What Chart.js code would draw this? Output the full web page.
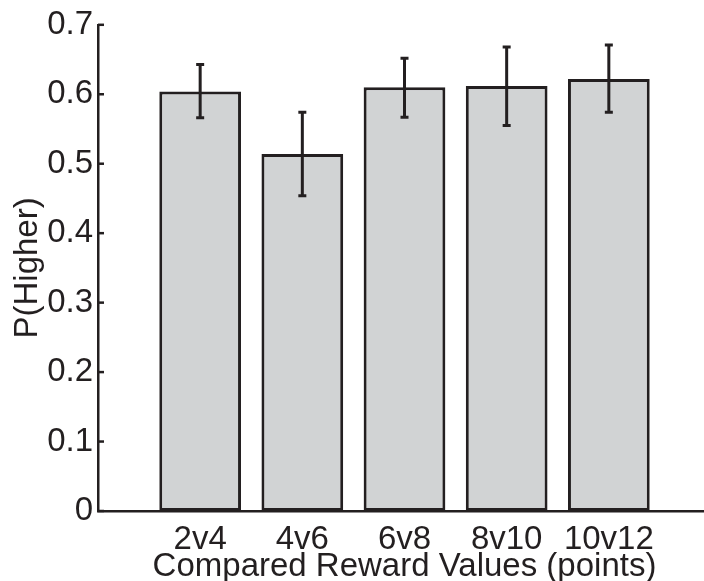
<!DOCTYPE html>
<html lang="en">
<head>
<meta charset="UTF-8">
<title>P(Higher)</title>
<script src="https://cdn.jsdelivr.net/npm/chart.js"></script>
<style>
    body {
        margin: 0;
        overflow: hidden;
        background: #fff;
    }
    #wrap {
        width: 720px;
        height: 581px;
    }
</style>
</head>
<body>
<div id="wrap"><canvas id="myChart" width="720" height="581"></canvas></div>
<script>
    // values
    const categories = ['2v4', '4v6', '6v8', '8v10', '10v12'];
    const pHigher   = [0.604, 0.514, 0.610, 0.612, 0.622];
    const errLow    = [0.566, 0.454, 0.567, 0.555, 0.574];
    const errHigh   = [0.643, 0.574, 0.652, 0.668, 0.671];
    const yTicks    = [0, 0.1, 0.2, 0.3, 0.4, 0.5, 0.6, 0.7];

    const ink = '#231f20';

    // empty slot at each end so the bars sit like the original x range 0..6
    const labels = ['', ...categories, ''];
    const barData = [null, ...pHigher, null];

    // error bars, drawn through the chart's scales
    const errorBars = {
        id: 'errorBars',
        afterDatasetsDraw(chart) {
            const ctx = chart.ctx;
            const x = chart.scales.x, y = chart.scales.y;
            ctx.save();
            ctx.strokeStyle = ink;
            ctx.lineWidth = 3;
            categories.forEach((c, i) => {
                const px = x.getPixelForValue(i + 1);
                const top = y.getPixelForValue(errHigh[i]);
                const bot = y.getPixelForValue(errLow[i]);
                ctx.beginPath();
                ctx.moveTo(px, top); ctx.lineTo(px, bot);
                ctx.moveTo(px - 4, top); ctx.lineTo(px + 4, top);
                ctx.moveTo(px - 4, bot); ctx.lineTo(px + 4, bot);
                ctx.stroke();
            });
            ctx.restore();
        }
    };

    // matlab style ticks pointing into the plot
    const innerTicks = {
        id: 'innerTicks',
        afterDraw(chart) {
            const ctx = chart.ctx;
            const y = chart.scales.y;
            ctx.save();
            ctx.strokeStyle = ink;
            ctx.lineWidth = 2.5;
            yTicks.forEach(v => {
                const py = y.getPixelForValue(v);
                ctx.beginPath();
                ctx.moveTo(y.right, py);
                ctx.lineTo(y.right + 6, py);
                ctx.stroke();
            });
            ctx.restore();
        }
    };

    const ctx = document.getElementById('myChart').getContext('2d');
    new Chart(ctx, {
        type: 'bar',
        data: {
            labels: labels,
            datasets: [{
                data: barData,
                backgroundColor: '#d1d3d4',
                borderColor: ink,
                borderWidth: 3,
                borderSkipped: false,
                barPercentage: 0.8,
                categoryPercentage: 1.0
            }]
        },
        options: {
            responsive: false,
            animation: false,
            layout: { padding: { top: 24, right: 8, left: 0, bottom: 0 } },
            plugins: {
                legend: { display: false },
                tooltip: { enabled: false }
            },
            scales: {
                x: {
                    offset: false,
                    grid: { display: false, drawTicks: false },
                    border: { display: true, color: ink, width: 2.5 },
                    ticks: {
                        color: ink,
                        padding: 9,
                        maxRotation: 0,
                        autoSkip: false,
                        font: { family: 'Liberation Sans', size: 33 }
                    },
                    title: {
                        display: true,
                        text: 'Compared Reward Values (points)',
                        color: ink,
                        padding: { top: 0, bottom: -6 },
                        font: { family: 'Liberation Sans', size: 33 }
                    },
                    afterFit(s) { s.height = 70; }
                },
                y: {
                    min: 0,
                    max: 0.7,
                    afterBuildTicks(s) { s.ticks = yTicks.map(v => ({ value: v })); },
                    grid: { display: false, drawTicks: false },
                    border: { display: true, color: ink, width: 2.5 },
                    ticks: {
                        color: ink,
                        padding: 5,
                        font: { family: 'Liberation Sans', size: 33 },
                        callback: v => String(v)
                    },
                    title: {
                        display: true,
                        text: 'P(Higher)',
                        color: ink,
                        padding: { top: 8, bottom: 0 },
                        font: { family: 'Liberation Sans', size: 33 }
                    },
                    afterFit(s) { s.width = 98; }
                }
            }
        },
        plugins: [errorBars, innerTicks]
    });
</script>
</body>
</html>
